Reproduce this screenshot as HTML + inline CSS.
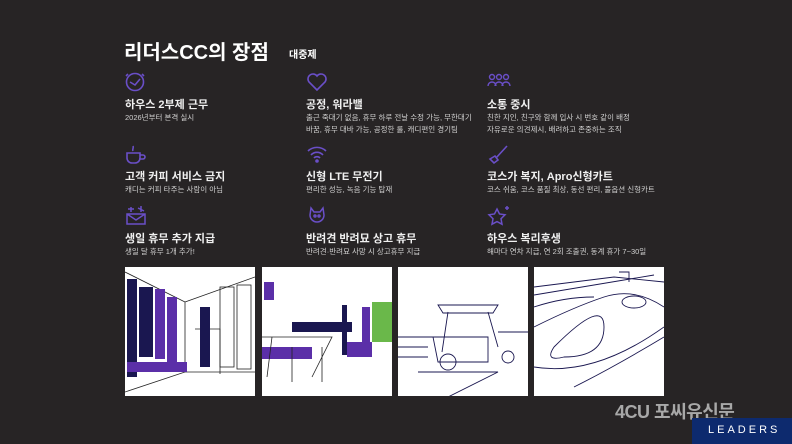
<!DOCTYPE html>
<html><head><meta charset="utf-8"><style>
body{margin:0;width:792px;height:444px;background:#272425;position:relative;overflow:hidden;font-family:"Liberation Sans","Noto Sans CJK KR",sans-serif;color:#e8e8e8}
.a{position:absolute;white-space:nowrap}
.h{font-size:20px;font-weight:bold;color:#fff;left:124px;top:36px}
.s{font-size:10px;font-weight:bold;color:#fff;left:289px;top:46px}
.t{font-size:11px;font-weight:bold;color:#f0f0f0}
.d{font-size:7.5px;color:#d0d0d0;line-height:12px}
.p{position:absolute;top:267px;width:130px;height:129px;background:#fff}
svg.i{position:absolute}
</style></head><body>
<div class="a h">리더스CC의 장점</div>
<div class="a s">대중제</div>

<svg class="i" style="left:124px;top:71px" width="22" height="22"><g fill="none" stroke="#6a4fc8" stroke-width="1.6"><circle cx="11" cy="11" r="8.5"/><path d="M6 11l5 3 5-6M4 3l-2 2M18 3l2 2"/></g></svg>
<div class="a t" style="left:125px;top:96px">하우스 2부제 근무</div>
<div class="a d" style="left:125px;top:112px">2026년부터 본격 실시</div>

<svg class="i" style="left:306px;top:72px" width="22" height="20"><path d="M11 18L3 10a4.5 4.5 0 0 1 8-6a4.5 4.5 0 0 1 8 6z" fill="none" stroke="#6a4fc8" stroke-width="1.6"/></svg>
<div class="a t" style="left:306px;top:96px">공정, 워라밸</div>
<div class="a d" style="left:306px;top:112px">출근 죽대기 없음, 휴무 하루 전날 수정 가능, 무한대기<br>바꿈, 휴무 대바 가능, 공정한 룰, 캐디편인 경기팀</div>

<svg class="i" style="left:487px;top:72px" width="24" height="18"><g fill="none" stroke="#6a4fc8" stroke-width="1.4"><circle cx="5" cy="5" r="2.5"/><circle cx="12" cy="5" r="2.5"/><circle cx="19" cy="5" r="2.5"/><path d="M1 14a4 4 0 0 1 8 0M8 14a4 4 0 0 1 8 0M15 14a4 4 0 0 1 8 0"/></g></svg>
<div class="a t" style="left:487px;top:96px">소통 중시</div>
<div class="a d" style="left:487px;top:112px">친한 지인, 친구와 함께 입사 시 번호 같이 배정<br>자유로운 의견제시, 배려하고 존중하는 조직</div>

<svg class="i" style="left:124px;top:144px" width="24" height="22"><g fill="none" stroke="#6a4fc8" stroke-width="1.6"><path d="M3 9h13v5a5 5 0 0 1-5 5h-3a5 5 0 0 1-5-5z"/><path d="M16 11h3a2 2 0 0 1 0 4h-4M9 7c-1-2 1-3 0-5"/></g></svg>
<div class="a t" style="left:125px;top:168px">고객 커피 서비스 금지</div>
<div class="a d" style="left:125px;top:184px">캐디는 커피 타주는 사람이 아님</div>

<svg class="i" style="left:306px;top:144px" width="22" height="20"><g fill="none" stroke="#6a4fc8" stroke-width="1.6"><path d="M2 7a13 13 0 0 1 18 0M5 11a8 8 0 0 1 12 0M8 14a4 4 0 0 1 6 0"/><circle cx="11" cy="17" r="1" fill="#6a4fc8"/></g></svg>
<div class="a t" style="left:306px;top:168px">신형 LTE 무전기</div>
<div class="a d" style="left:306px;top:184px">편리한 성능, 녹음 기능 탑재</div>

<svg class="i" style="left:487px;top:144px" width="24" height="22"><g fill="none" stroke="#6a4fc8" stroke-width="1.6"><path d="M20 2L9 14M3 15l5-3 3 4-4 3z"/></g></svg>
<div class="a t" style="left:487px;top:168px">코스가 복지,  Apro신형카트</div>
<div class="a d" style="left:487px;top:184px">코스 쉬움, 코스 품질 최상, 동선 편리, 풀옵션 신형카트</div>

<svg class="i" style="left:124px;top:204px" width="24" height="22"><g fill="none" stroke="#6a4fc8" stroke-width="1.5"><path d="M3 10h18v10H3zM3 10l9 6 9-6M7 3v5M4 5h6M17 2v6M14 4l6 3"/></g></svg>
<div class="a t" style="left:125px;top:230px">생일 휴무 추가 지급</div>
<div class="a d" style="left:125px;top:246px">생일 달 휴무 1개 추가!</div>

<svg class="i" style="left:306px;top:204px" width="22" height="22"><g fill="none" stroke="#6a4fc8" stroke-width="1.5"><path d="M5 4l3 4h6l3-4 1 7a7 7 0 0 1-14 0z"/><circle cx="9" cy="12" r="1"/><circle cx="13" cy="12" r="1"/></g></svg>
<div class="a t" style="left:306px;top:230px">반려견 반려묘 상고 휴무</div>
<div class="a d" style="left:306px;top:246px">반려견·반려묘 사망 시 상고휴무 지급</div>

<svg class="i" style="left:487px;top:204px" width="24" height="22"><g fill="none" stroke="#6a4fc8" stroke-width="1.5"><path d="M10 5l2.5 5 5.5.8-4 3.9 1 5.5-5-2.6-5 2.6 1-5.5-4-3.9 5.5-.8z"/><path d="M20 2v4M18 4h4"/></g></svg>
<div class="a t" style="left:487px;top:230px">하우스 복리후생</div>
<div class="a d" style="left:487px;top:246px">해마다 연차 지급, 연 2회 조출권, 동계 휴가 7~30일</div>

<div class="p" style="left:125px"><svg width="130" height="129"><g stroke="#222" stroke-width="0.8" fill="none"><path d="M0 5l60 30v70L0 125M60 35l70-25M60 105l70 0M70 62h25v45"/></g><rect x="2" y="12" width="10" height="98" fill="#1a1750"/><rect x="14" y="20" width="14" height="70" fill="#1a1750"/><rect x="30" y="22" width="10" height="70" fill="#5b2fa8"/><rect x="42" y="30" width="10" height="70" fill="#5b2fa8"/><rect x="2" y="95" width="60" height="10" fill="#5b2fa8"/><rect x="75" y="40" width="10" height="60" fill="#1a1750"/><g stroke="#222" fill="none" stroke-width="0.8"><rect x="95" y="20" width="14" height="80"/><rect x="112" y="18" width="14" height="84"/></g></svg></div>
<div class="p" style="left:262px"><svg width="130" height="129"><rect x="2" y="15" width="10" height="18" fill="#5b2fa8"/><rect x="110" y="35" width="20" height="40" fill="#6ab84a"/><rect x="80" y="38" width="5" height="50" fill="#1a1750"/><rect x="100" y="40" width="8" height="50" fill="#5b2fa8"/><rect x="30" y="55" width="60" height="10" fill="#1a1750"/><rect x="0" y="80" width="50" height="12" fill="#5b2fa8"/><rect x="85" y="75" width="25" height="15" fill="#5b2fa8"/><g stroke="#222" fill="none" stroke-width="0.8"><path d="M0 70h70l-20 40M10 70l-5 40M30 80v35M60 80v35"/></g></svg></div>
<div class="p" style="left:398px"><svg width="130" height="129"><g stroke="#1a1750" stroke-width="0.9" fill="none"><path d="M40 38h60l-5 8H45zM50 45l-6 40M90 45l10 35M35 70h55v25H40zM0 70h40M0 80h30M0 90h30M20 105h80l-50 25M100 65h30"/><circle cx="50" cy="95" r="8"/><circle cx="110" cy="90" r="6"/></g></svg></div>
<div class="p" style="left:534px"><svg width="130" height="129"><g stroke="#1a1750" stroke-width="0.9" fill="none"><path d="M0 20l80-10 50 5M0 28q60-10 120-20M0 60q40-20 70-30t60 10M20 80q50-50 50-20t-40 30q-20 5-10-10M0 100q60 10 130-40M40 120q40-20 90-50M0 40q30-10 60-10M85 5h10v10"/><ellipse cx="100" cy="35" rx="12" ry="6"/></g></svg></div>

<div class="a" style="left:615px;top:398px;font-size:18px;font-weight:bold;color:#a8a8a8;letter-spacing:-0.5px">4CU 포씨유신문</div>
<div style="position:absolute;left:692px;top:418px;width:100px;height:26px;background:#0d2a6e"></div>
<div class="a" style="left:708px;top:424px;font-size:11px;color:#fff;letter-spacing:3px">LEADERS</div>
</body></html>
